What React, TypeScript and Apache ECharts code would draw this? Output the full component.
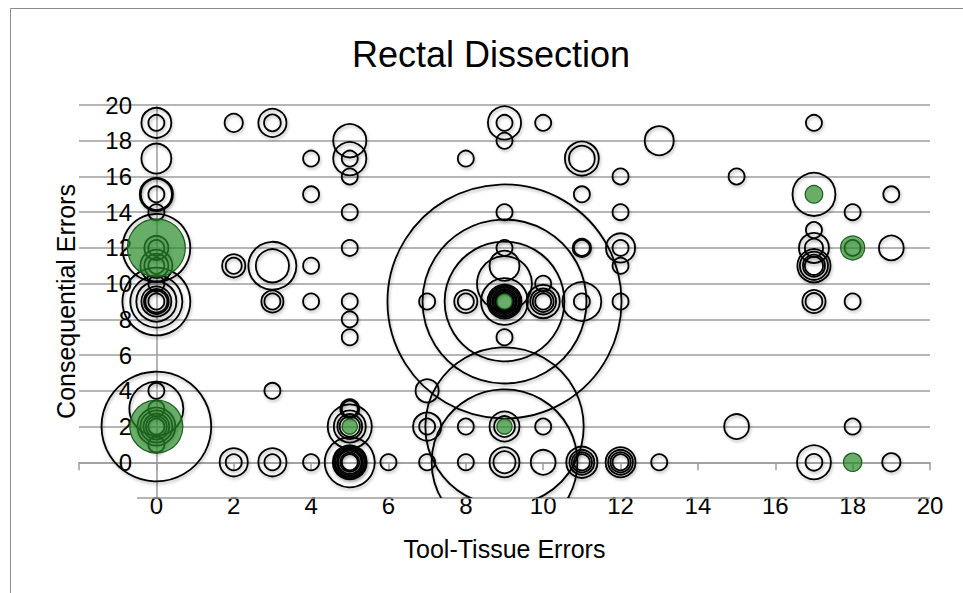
import React, { useEffect, useRef } from 'react';
import * as echarts from 'echarts';

const TITLE = 'Rectal Dissection';
const X_TITLE = 'Tool-Tissue Errors';
const Y_TITLE = 'Consequential Errors';

const AXIS_MIN = -2;
const AXIS_MAX = 20;
const AXIS_STEP = 2;

// [tool-tissue errors, consequential errors, bubble size]
const OUTLINED_BUBBLES: number[][] = [
  // x = 0
  [0, 19, 3.5], [0, 19, 1], [0, 17, 3.5],
  [0, 15, 4.3], [0, 15, 3.8], [0, 15, 1], [0, 14, 1],
  [0, 12, 18], [0, 12, 1], [0, 12, 2.25], [0, 11, 1], [0, 11, 2.25], [0, 11, 4],
  [0, 10, 1],
  [0, 9, 18], [0, 9, 10.6], [0, 9, 6.3], [0, 9, 3.5], [0, 9, 2.4], [0, 9, 1.9], [0, 9, 1],
  [0, 4, 1], [0, 3, 11.4], [0, 3, 1],
  [0, 2, 47], [0, 2, 1], [0, 2, 1.7], [0, 2, 2.6], [0, 2, 4], [0, 2, 5.6],
  [0, 1, 1],
  // x = 2, 3, 4
  [2, 19, 1.3], [2, 11, 2.1], [2, 11, 1], [2, 0, 3.1], [2, 0, 1],
  [3, 19, 3.1], [3, 19, 1.1], [3, 11, 9], [3, 11, 4.3], [3, 9, 1.9], [3, 9, 1],
  [3, 4, 1], [3, 0, 3.1], [3, 0, 1],
  [4, 17, 1], [4, 15, 1], [4, 11, 1], [4, 9, 1], [4, 0, 1],
  // x = 5
  [5, 18, 4.3], [5, 17, 4.3], [5, 17, 1], [5, 16, 1], [5, 14, 1], [5, 12, 1],
  [5, 9, 1], [5, 8, 1], [5, 7, 1], [5, 3, 1], [5, 3, 1.4],
  [5, 2, 1.6], [5, 2, 2.4], [5, 2, 4], [5, 2, 7.6],
  [5, 0, 1], [5, 0, 1.4], [5, 0, 2.1], [5, 0, 2.6], [5, 0, 3.3], [5, 0, 4], [5, 0, 4.5], [5, 0, 9.8],
  // x = 6, 7, 8
  [6, 0, 1],
  [7, 9, 1], [7, 4, 2.1], [7, 2, 3.1], [7, 2, 1], [7, 0, 1],
  [8, 17, 1], [8, 9, 2.1], [8, 9, 1], [8, 2, 1], [8, 0, 1],
  // x = 9
  [9, 19, 4.3], [9, 19, 1], [9, 18, 1], [9, 14, 1], [9, 12, 1], [9, 11, 3.5], [9, 10, 11.8],
  [9, 9, 1.1], [9, 9, 1.4], [9, 9, 1.9], [9, 9, 2.4], [9, 9, 3.1], [9, 9, 3.8], [9, 9, 4.5], [9, 9, 8.6],
  [9, 9, 56], [9, 9, 105], [9, 9, 214],
  [9, 7, 1], [9, 2, 1.7], [9, 2, 3.5], [9, 2, 98], [9, 0, 1.9], [9, 0, 3.5], [9, 0, 83],
  // x = 10, 11, 12, 13
  [10, 19, 1], [10, 10, 1], [10, 9, 1], [10, 9, 1.7], [10, 9, 2.6], [10, 9, 4.3], [10, 2, 1], [10, 0, 2.4],
  [11, 17, 4.5], [11, 17, 2.6], [11, 15, 1], [11, 12, 1], [11, 12, 1.3], [11, 9, 1], [11, 9, 5.9],
  [11, 0, 1], [11, 0, 1.6], [11, 0, 2.4], [11, 0, 3.8],
  [12, 16, 1], [12, 14, 1], [12, 12, 3.3], [12, 12, 1], [12, 11, 1], [12, 9, 1],
  [12, 0, 1], [12, 0, 1.6], [12, 0, 2.4], [12, 0, 3.5],
  [13, 18, 3.3], [13, 0, 1],
  // x = 15, 17, 18, 19
  [15, 16, 1], [15, 2, 2.4],
  [17, 19, 1], [17, 15, 7.2], [17, 13, 1], [17, 12, 3.5], [17, 12, 1.3],
  [17, 11, 4.3], [17, 11, 3.1], [17, 11, 1.9], [17, 11, 1.3], [17, 9, 2.1], [17, 9, 1.1],
  [17, 0, 4.5], [17, 0, 1.1],
  [18, 14, 1], [18, 12, 1], [18, 9, 1], [18, 2, 1],
  [19, 15, 1], [19, 12, 2.4], [19, 0, 1.3],
];

const HIGHLIGHTED_BUBBLES: number[][] = [
  [0, 12, 13.1], [0, 2, 11], [5, 2, 0.9], [9, 9, 0.9], [9, 2, 0.9],
  [17, 15, 1.2], [18, 12, 2.25], [18, 0, 1.3],
];

const BOTTOM_RULE: number[][] = [[-0.5, -2], [20, -2]];

const UNIT_RADIUS = 8;
const FONT = '"Liberation Sans", Arial, Helvetica, sans-serif';
const GRID_COLOR = '#9c9c9c';

function makeRenderer(style: any) {
  return (_params: any, api: any) => {
    const pt = api.coord([api.value(0), api.value(1)]);
    const r = UNIT_RADIUS * Math.sqrt(Number(api.value(2)));
    return { type: 'circle', shape: { cx: pt[0], cy: pt[1], r }, style };
  };
}

const hideNegative = (v: number) => (v < 0 ? '' : String(v));

export default function App() {
  const ref = useRef<HTMLDivElement>(null);
  useEffect(() => {
    if (!ref.current) return;
    const chart = echarts.init(ref.current, null, { renderer: 'svg' });
    chart.setOption({
      animation: false,
      backgroundColor: '#ffffff',
      title: {
        text: TITLE,
        left: 491,
        top: 36,
        padding: 0,
        textAlign: 'center',
        textVerticalAlign: 'top',
        textStyle: { fontSize: 36, fontWeight: 'normal', color: '#000', fontFamily: FONT },
      },
      graphic: [
        {
          type: 'rect',
          silent: true,
          shape: { x: 10.5, y: 8.5, width: 2000, height: 2000 },
          style: { fill: 'none', stroke: '#8c8c8c', lineWidth: 1 },
        },
      ],
      grid: {
        left: 79,
        right: 33,
        top: 105,
        bottom: 95,
        containLabel: false,
        outerBoundsMode: 'none',
      },
      xAxis: {
        type: 'value',
        min: AXIS_MIN,
        max: AXIS_MAX,
        interval: AXIS_STEP,
        axisLine: { show: true, onZero: true, lineStyle: { color: GRID_COLOR, width: 1.5 } },
        axisTick: { show: true, inside: false, length: 8, lineStyle: { color: GRID_COLOR, width: 1.5 } },
        axisLabel: { margin: -5, fontSize: 24, color: '#000', fontFamily: FONT, formatter: hideNegative },
        splitLine: { show: false },
        name: X_TITLE,
        nameLocation: 'middle',
        nameGap: 38,
        nameMoveOverlap: false,
        nameTextStyle: { fontSize: 25, color: '#000', fontFamily: FONT },
      },
      yAxis: {
        type: 'value',
        min: AXIS_MIN,
        max: AXIS_MAX,
        interval: AXIS_STEP,
        axisLine: { show: true, onZero: true, lineStyle: { color: GRID_COLOR, width: 1.5 } },
        axisTick: { show: false },
        axisLabel: { margin: -53, fontSize: 24, color: '#000', fontFamily: FONT, formatter: hideNegative },
        splitLine: { show: true, showMinLine: false, lineStyle: { color: GRID_COLOR, width: 1.5 } },
        name: Y_TITLE,
        nameLocation: 'middle',
        nameGap: 1,
        nameMoveOverlap: false,
        nameTextStyle: { fontSize: 25, color: '#000', fontFamily: FONT },
      },
      series: [
        {
          type: 'line',
          data: BOTTOM_RULE,
          symbol: 'none',
          silent: true,
          clip: false,
          z: 1,
          lineStyle: { color: GRID_COLOR, width: 1.5 },
        },
        {
          type: 'custom',
          name: 'Attempts',
          data: OUTLINED_BUBBLES,
          clip: true,
          silent: true,
          z: 3,
          encode: { x: 0, y: 1 },
          renderItem: makeRenderer({
            fill: 'none',
            stroke: '#000',
            lineWidth: 1.8,
            shadowColor: 'rgba(0,0,0,0.28)',
            shadowBlur: 3,
            shadowOffsetX: 1,
            shadowOffsetY: 2,
          }),
        },
        {
          type: 'custom',
          name: 'Highlighted',
          data: HIGHLIGHTED_BUBBLES,
          clip: true,
          silent: true,
          z: 4,
          encode: { x: 0, y: 1 },
          renderItem: makeRenderer({
            fill: 'rgba(40,140,40,0.7)',
            stroke: '#1c5a1c',
            lineWidth: 1.2,
          }),
        },
      ],
    });
    return () => chart.dispose();
  }, []);
  return (
    <div
      ref={ref}
      style={{ position: 'fixed', left: 0, top: 0, width: 963, height: 593, background: '#fff' }}
    />
  );
}
